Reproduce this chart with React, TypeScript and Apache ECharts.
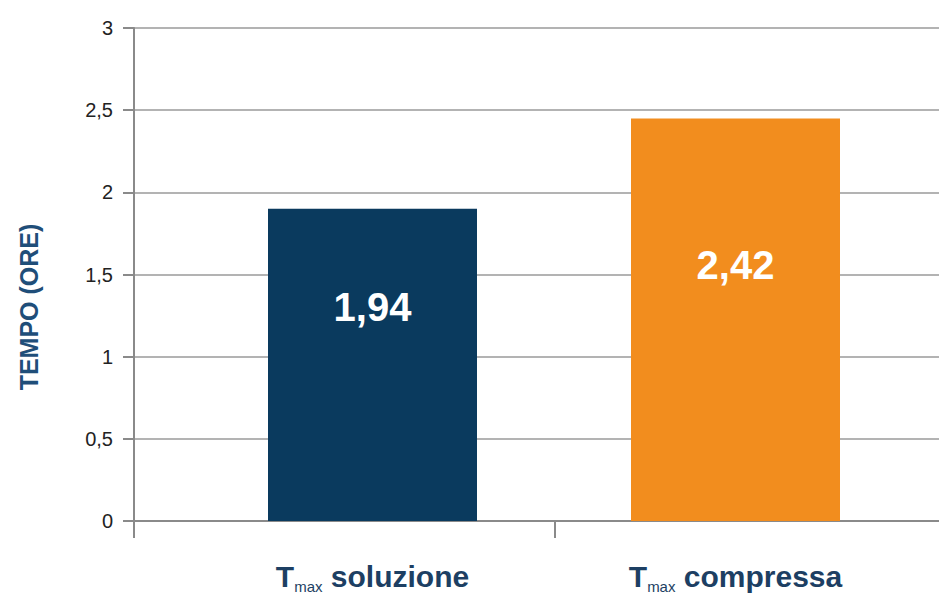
import React, { useEffect, useRef } from "react";
import * as echarts from "echarts";

const categories = ["soluzione", "compressa"];
const barValues = [1.9, 2.45];
const barLabels = ["1,94", "2,42"];
const yTicks = { min: 0, max: 3, interval: 0.5 };
const yAxisName = "TEMPO (ORE)";
const barColors = ["#0a3a5e", "#f28d1e"];

const axisGray = "#8a8a8a";
const navyText = "#1d3f63";
const font = "Liberation Sans, Arial, sans-serif";

export default function App() {
  const ref = useRef<HTMLDivElement>(null);
  useEffect(() => {
    if (!ref.current) return;
    const chart = echarts.init(ref.current, undefined, { renderer: "svg" });
    const top = 28;
    const height = 493;
    chart.setOption({
      animation: false,
      backgroundColor: "#ffffff",
      grid: [
        { left: 134, top, width: 842, height },
        { left: 191, top, width: 726, height },
      ],
      xAxis: [
        {
          type: "category",
          gridIndex: 0,
          data: categories,
          boundaryGap: true,
          axisLine: { show: true, lineStyle: { color: axisGray, width: 2 } },
          axisTick: { show: true, length: 17, lineStyle: { color: axisGray, width: 2 } },
          axisLabel: { show: false },
        },
        {
          type: "category",
          gridIndex: 1,
          data: categories,
          boundaryGap: true,
          axisLine: { show: false },
          axisTick: { show: false },
          axisLabel: {
            show: true,
            margin: 37,
            formatter: (v: string) => `{t|T}{s|max}{n| ${v}}`,
            rich: {
              t: { fontFamily: font, fontWeight: "bold", fontSize: 30, lineHeight: 36, color: navyText },
              s: { fontFamily: font, fontSize: 15, lineHeight: 18, verticalAlign: "bottom", color: navyText },
              n: { fontFamily: font, fontWeight: "bold", fontSize: 30, lineHeight: 36, color: navyText },
            },
          },
        },
      ],
      yAxis: [
        {
          type: "value",
          gridIndex: 0,
          ...yTicks,
          axisLine: { show: true, lineStyle: { color: axisGray, width: 2 } },
          axisTick: { show: true, length: 11, lineStyle: { color: axisGray, width: 2 } },
          splitLine: { show: true, lineStyle: { color: "#9a9a9a", width: 1.5 } },
          axisLabel: {
            margin: 21,
            fontFamily: font,
            fontSize: 20,
            color: "#222222",
            formatter: (v: number) => String(v).replace(".", ","),
          },
        },
        {
          type: "value",
          gridIndex: 1,
          ...yTicks,
          show: false,
          splitLine: { show: false },
        },
      ],
      graphic: [
        {
          type: "text",
          x: 29,
          y: 307,
          rotation: Math.PI / 2,
          style: {
            text: yAxisName,
            fill: "#1f4e79",
            fontFamily: font,
            fontWeight: "bold",
            fontSize: 25,
            align: "center",
            verticalAlign: "middle",
          },
        },
      ],
      series: [
        {
          type: "bar",
          xAxisIndex: 1,
          yAxisIndex: 1,
          barWidth: 209,
          data: barValues.map((v, i) => ({
            value: v,
            itemStyle: { color: barColors[i] },
            label: { position: i === 0 ? ["50%", "31.5%"] : ["50%", "36.3%"] },
          })),
          label: {
            show: true,
            formatter: (p: any) => barLabels[p.dataIndex],
            color: "#ffffff",
            fontFamily: font,
            fontWeight: "bold",
            fontSize: 40,
            align: "center",
            verticalAlign: "middle",
          },
        },
      ],
    });
    return () => chart.dispose();
  }, []);
  return (
    <div style={{ position: "absolute", left: 0, top: 0, width: 939, height: 595, overflow: "hidden", background: "#fff" }}>
      <div ref={ref} style={{ width: 1000, height: 595 }} />
    </div>
  );
}
